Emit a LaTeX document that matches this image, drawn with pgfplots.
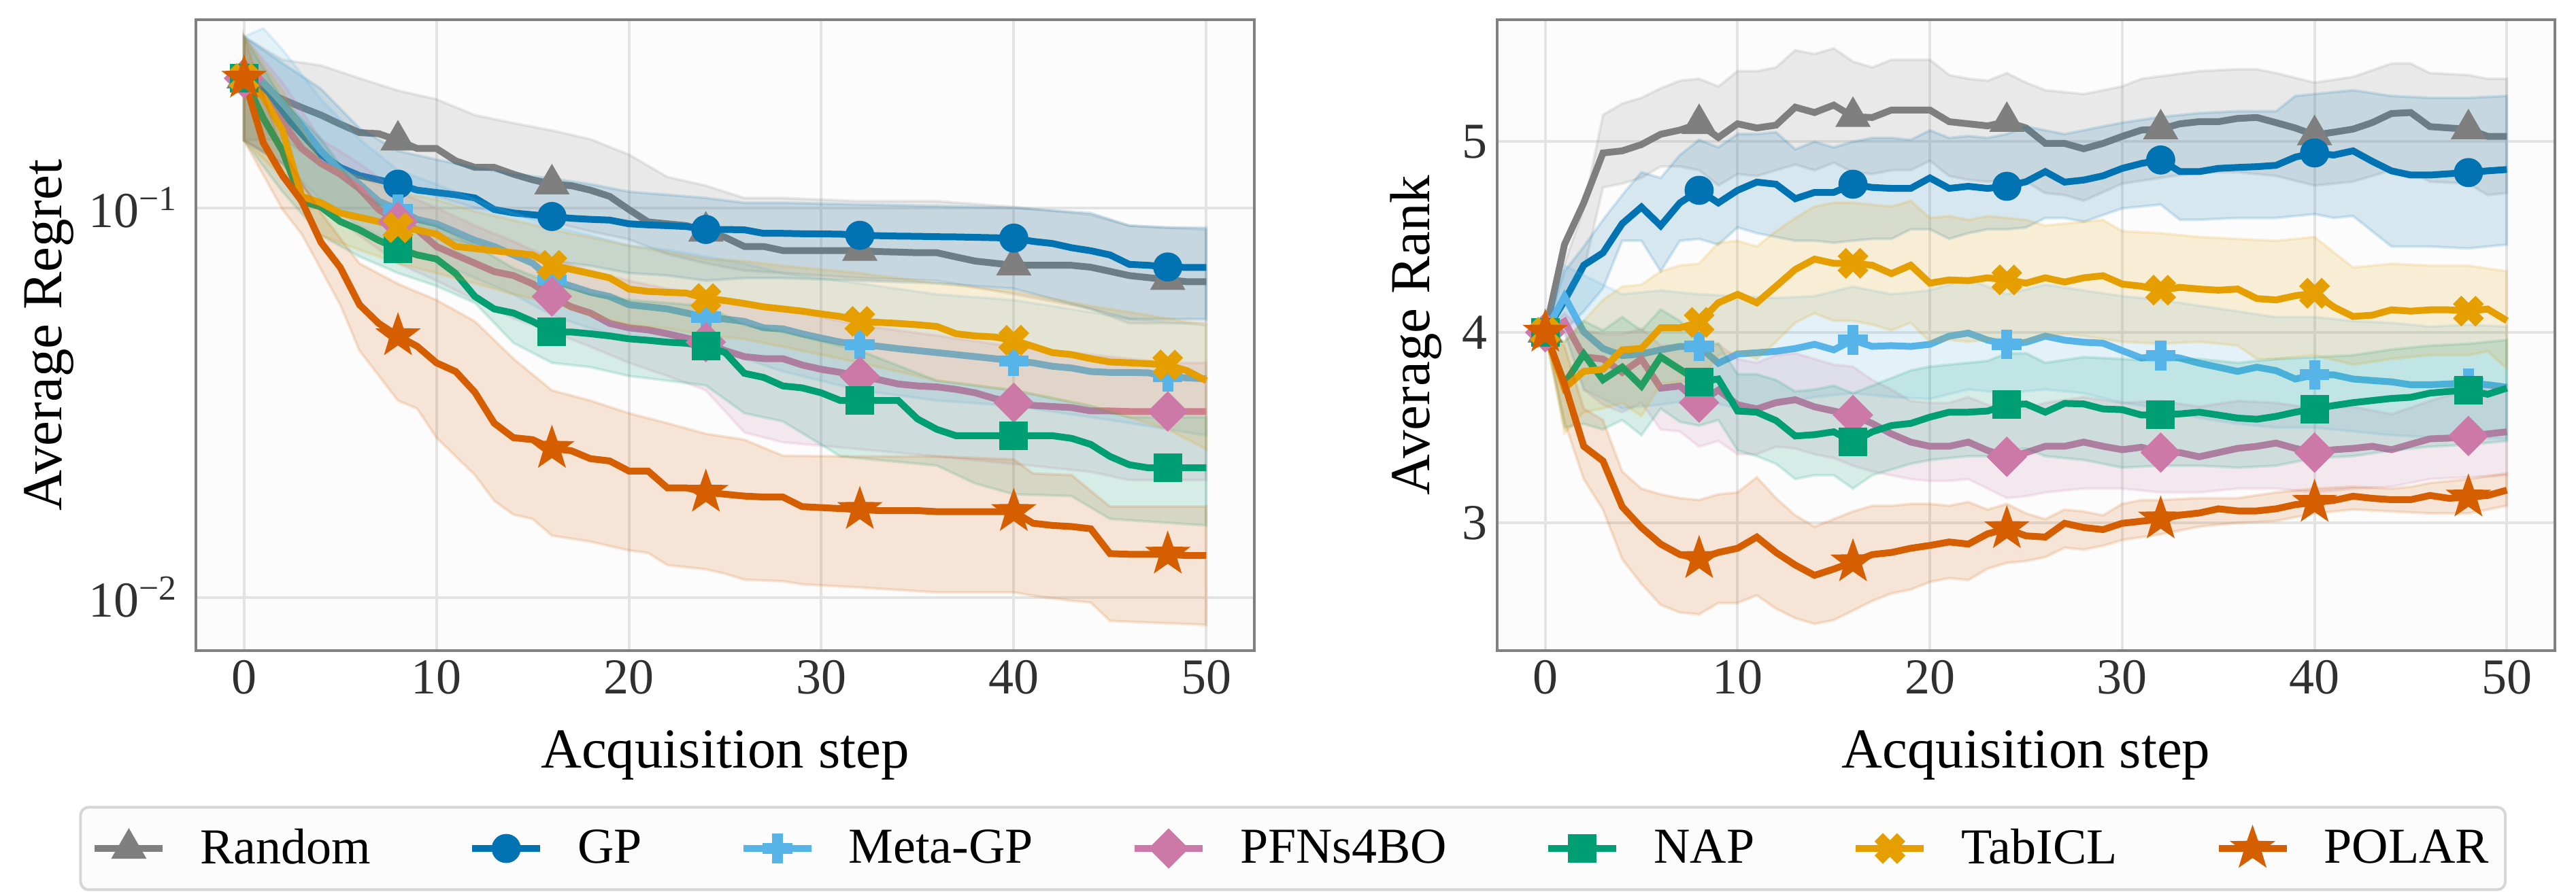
\documentclass[border=0pt]{standalone}
\usepackage{fontspec}
\setmainfont{Liberation Serif}
\usepackage{pgfplots}
\pgfplotsset{compat=1.18}
\usepackage{pgfplotstable}

\definecolor{cRnd}{HTML}{7F7F7F}
\definecolor{cGP}{HTML}{0173B2}
\definecolor{cMeta}{HTML}{56B4E9}
\definecolor{cPfn}{HTML}{CC79A7}
\definecolor{cNap}{HTML}{009E73}
\definecolor{cTab}{HTML}{E69F00}
\definecolor{cPol}{HTML}{D55E00}
\definecolor{bgc}{HTML}{FCFCFC}
\definecolor{framec}{HTML}{808080}
\definecolor{gridc}{HTML}{E3E3E3}
\definecolor{tickc}{HTML}{303030}
\definecolor{legc}{HTML}{D6D6D6}

\pgfdeclareplotmark{fstar}{%
 \pgfpathmoveto{\pgfpointpolar{90}{\pgfplotmarksize}}%
 \pgfpathlineto{\pgfpointpolar{126}{0.4\pgfplotmarksize}}%
 \pgfpathlineto{\pgfpointpolar{162}{\pgfplotmarksize}}%
 \pgfpathlineto{\pgfpointpolar{198}{0.4\pgfplotmarksize}}%
 \pgfpathlineto{\pgfpointpolar{234}{\pgfplotmarksize}}%
 \pgfpathlineto{\pgfpointpolar{270}{0.4\pgfplotmarksize}}%
 \pgfpathlineto{\pgfpointpolar{306}{\pgfplotmarksize}}%
 \pgfpathlineto{\pgfpointpolar{342}{0.4\pgfplotmarksize}}%
 \pgfpathlineto{\pgfpointpolar{18}{\pgfplotmarksize}}%
 \pgfpathlineto{\pgfpointpolar{54}{0.4\pgfplotmarksize}}%
 \pgfpathclose\pgfusepathqfillstroke}
\pgfdeclareplotmark{fplus}{%
 \pgfpathmoveto{\pgfpoint{0.34\pgfplotmarksize}{\pgfplotmarksize}}%
 \pgfpathlineto{\pgfpoint{0.34\pgfplotmarksize}{0.34\pgfplotmarksize}}%
 \pgfpathlineto{\pgfpoint{\pgfplotmarksize}{0.34\pgfplotmarksize}}%
 \pgfpathlineto{\pgfpoint{\pgfplotmarksize}{-0.34\pgfplotmarksize}}%
 \pgfpathlineto{\pgfpoint{0.34\pgfplotmarksize}{-0.34\pgfplotmarksize}}%
 \pgfpathlineto{\pgfpoint{0.34\pgfplotmarksize}{-\pgfplotmarksize}}%
 \pgfpathlineto{\pgfpoint{-0.34\pgfplotmarksize}{-\pgfplotmarksize}}%
 \pgfpathlineto{\pgfpoint{-0.34\pgfplotmarksize}{-0.34\pgfplotmarksize}}%
 \pgfpathlineto{\pgfpoint{-\pgfplotmarksize}{-0.34\pgfplotmarksize}}%
 \pgfpathlineto{\pgfpoint{-\pgfplotmarksize}{0.34\pgfplotmarksize}}%
 \pgfpathlineto{\pgfpoint{-0.34\pgfplotmarksize}{0.34\pgfplotmarksize}}%
 \pgfpathlineto{\pgfpoint{-0.34\pgfplotmarksize}{\pgfplotmarksize}}%
 \pgfpathclose\pgfusepathqfillstroke}

\pgfplotsset{
  band/.style={forget plot, no markers, fill=#1, draw=#1, opacity=0.15, line width=1pt},
  mline/.style={line width=2.5pt, color=#1, mark repeat=8, every mark/.append style={solid, line width=0.5pt}},
  common/.style={
    scale only axis, height=232pt,
    axis background/.style={fill=bgc},
    axis line style={draw=framec, line width=1pt},
    grid=major, major grid style={draw=gridc, line width=1pt},
    major tick length=0pt, minor tick length=0pt,
    tick label style={font=\fontsize{18.5}{22}\selectfont, text=tickc},
    label style={font=\fontsize{20.75}{25}\selectfont},
    xmin=-2.5, xmax=52.5, xtick={0,10,20,30,40,50},
    /pgf/number format/assume math mode=true,
    xlabel={Acquisition step},
    xlabel style={at={(axis description cs:0.5,-0.166)}, anchor=center},
  },
  legend image code/.code={\draw[mark repeat=2,mark phase=2,#1] plot coordinates {(0pt,0pt) (12.5pt,0pt) (25pt,0pt)};},
}

\pgfplotstableread{
t rnd gp meta pfn nap tab pol
0 0.215 0.215 0.215 0.215 0.215 0.215 0.215
1 0.200 0.198 0.210 0.193 0.170 0.193 0.147
2 0.190 0.175 0.186 0.166 0.140 0.158 0.121
3 0.181 0.155 0.162 0.142 0.104 0.107 0.104
4 0.173 0.137 0.140 0.130 0.1005 0.103 0.0815
5 0.164 0.127 0.125 0.122 0.0922 0.097 0.0703
6 0.156 0.121 0.115 0.112 0.0878 0.0945 0.0564
7 0.155 0.118 0.104 0.099 0.0825 0.0922 0.0505
8 0.149 0.115 0.099 0.0922 0.0786 0.0889 0.0469
9 0.142 0.111 0.0934 0.0878 0.0757 0.0878 0.0441
10 0.142 0.1095 0.091 0.0796 0.0739 0.0856 0.040
11 0.132 0.108 0.0867 0.0757 0.0678 0.0796 0.038
12 0.127 0.106 0.0825 0.0721 0.0592 0.0786 0.0336
13 0.127 0.099 0.0796 0.0686 0.055 0.0776 0.028
14 0.122 0.097 0.0757 0.067 0.0537 0.0767 0.0257
15 0.118 0.096 0.0721 0.0638 0.0511 0.0757 0.0254
16 0.115 0.095 0.0653 0.0592 0.048 0.0712 0.0241
17 0.114 0.094 0.063 0.0557 0.048 0.0695 0.0238
18 0.111 0.0934 0.0607 0.0537 0.0475 0.0678 0.0227
19 0.107 0.093 0.0592 0.0505 0.0469 0.0661 0.0224
20 0.099 0.091 0.0564 0.0492 0.0461 0.0619 0.0211
21 0.092 0.0904 0.0557 0.0486 0.0457 0.061 0.0211
22 0.091 0.090 0.055 0.0475 0.0452 0.0607 0.0191
23 0.090 0.0895 0.0537 0.0463 0.0449 0.0604 0.0191
24 0.087 0.088 0.0524 0.0452 0.0441 0.0585 0.0186
25 0.084 0.088 0.0518 0.043 0.0425 0.0578 0.0184
26 0.0796 0.0878 0.0511 0.0415 0.0376 0.0568 0.0182
27 0.0796 0.086 0.0492 0.041 0.0367 0.0557 0.0181
28 0.0777 0.086 0.0489 0.041 0.0349 0.055 0.0181
29 0.0777 0.0858 0.0475 0.0395 0.0345 0.0543 0.0171
30 0.0777 0.0857 0.0463 0.0385 0.0335 0.0534 0.017
31 0.0777 0.0856 0.0452 0.0378 0.032 0.0526 0.0169
32 0.0777 0.085 0.0446 0.0369 0.032 0.0511 0.0168
33 0.0772 0.0848 0.0441 0.0362 0.032 0.0508 0.0167
34 0.077 0.0846 0.0435 0.0353 0.032 0.0505 0.0167
35 0.0767 0.0845 0.043 0.0349 0.0287 0.0501 0.0167
36 0.0767 0.0843 0.0425 0.0347 0.027 0.0496 0.0166
37 0.0748 0.0842 0.042 0.0342 0.026 0.0475 0.0166
38 0.073 0.084 0.0415 0.0335 0.026 0.0469 0.0166
39 0.0721 0.0838 0.041 0.0324 0.026 0.0466 0.0166
40 0.0712 0.0836 0.0404 0.0316 0.026 0.0457 0.0166
41 0.0712 0.082 0.040 0.0311 0.026 0.0441 0.0155
42 0.0712 0.081 0.0392 0.0309 0.026 0.0425 0.0153
43 0.0712 0.079 0.0388 0.0307 0.0256 0.042 0.0152
44 0.0704 0.0776 0.038 0.0301 0.0247 0.041 0.015
45 0.0687 0.0757 0.0378 0.0301 0.023 0.0402 0.01295
46 0.067 0.0716 0.0378 0.030 0.0219 0.040 0.0129
47 0.0662 0.0712 0.0377 0.030 0.0215 0.0398 0.0129
48 0.0654 0.0705 0.0369 0.030 0.0215 0.0395 0.0129
49 0.0646 0.0703 0.0366 0.030 0.0215 0.0382 0.0128
50 0.0646 0.0703 0.0364 0.030 0.0215 0.036 0.0128
}\regret

\pgfplotstableread{
t rnd gp meta pfn nap tab pol
0 4.0 4.0 4.0 4.0 4.0 4.0 4.0
1 4.461 4.166 4.188 4.057 3.729 3.707 3.729
2 4.679 4.352 4.002 3.871 3.886 3.795 3.402
3 4.941 4.417 3.915 3.860 3.751 3.806 3.325
4 4.952 4.570 3.878 3.790 3.817 3.908 3.085
5 4.985 4.657 3.886 3.860 3.718 3.915 2.976
6 5.039 4.559 3.908 3.707 3.871 4.024 2.889
7 5.061 4.679 3.926 3.718 3.806 4.024 2.834
8 5.094 4.745 3.926 3.631 3.740 4.052 2.812
9 5.022 4.679 3.838 3.697 3.755 4.155 2.845
10 5.094 4.745 3.886 3.620 3.587 4.199 2.867
11 5.072 4.788 3.893 3.598 3.581 4.155 2.926
12 5.087 4.777 3.900 3.631 3.537 4.242 2.845
13 5.181 4.701 3.915 3.646 3.456 4.330 2.779
14 5.153 4.734 3.937 3.609 3.463 4.384 2.725
15 5.192 4.734 3.908 3.587 3.478 4.362 2.758
16 5.131 4.777 3.959 3.566 3.424 4.362 2.795
17 5.127 4.760 3.926 3.522 3.478 4.352 2.834
18 5.166 4.755 3.930 3.467 3.511 4.308 2.845
19 5.166 4.755 3.926 3.424 3.522 4.352 2.867
20 5.166 4.810 3.937 3.402 3.555 4.258 2.882
21 5.105 4.755 3.980 3.402 3.581 4.275 2.900
22 5.094 4.766 3.996 3.424 3.581 4.271 2.889
23 5.083 4.755 3.959 3.380 3.587 4.286 2.943
24 5.105 4.766 3.937 3.347 3.620 4.275 2.969
25 5.072 4.790 3.948 3.369 3.624 4.258 2.932
26 4.991 4.843 3.980 3.402 3.581 4.286 2.926
27 4.991 4.788 3.959 3.402 3.627 4.264 2.998
28 4.963 4.799 3.948 3.424 3.624 4.286 2.976
29 4.991 4.821 3.943 3.402 3.598 4.297 2.965
30 5.028 4.860 3.904 3.384 3.594 4.253 2.998
31 5.061 4.886 3.865 3.397 3.566 4.242 3.009
32 5.066 4.904 3.878 3.369 3.566 4.221 3.020
33 5.094 4.843 3.865 3.369 3.572 4.236 3.041
34 5.105 4.843 3.838 3.347 3.581 4.227 3.052
35 5.105 4.860 3.817 3.369 3.566 4.221 3.074
36 5.122 4.865 3.795 3.391 3.550 4.227 3.063
37 5.127 4.869 3.817 3.402 3.544 4.177 3.063
38 5.100 4.876 3.799 3.419 3.559 4.170 3.074
39 5.072 4.919 3.755 3.391 3.581 4.192 3.096
40 5.035 4.941 3.777 3.369 3.598 4.205 3.107
41 5.050 4.930 3.777 3.384 3.616 4.133 3.118
42 5.066 4.952 3.755 3.391 3.631 4.083 3.140
43 5.100 4.897 3.747 3.402 3.642 4.090 3.129
44 5.148 4.847 3.740 3.384 3.653 4.118 3.122
45 5.153 4.825 3.725 3.413 3.659 4.111 3.122
46 5.079 4.825 3.725 3.441 3.681 4.118 3.144
47 5.072 4.832 3.729 3.445 3.690 4.118 3.129
48 5.066 4.838 3.734 3.456 3.697 4.111 3.135
49 5.028 4.847 3.725 3.467 3.675 4.122 3.144
50 5.028 4.854 3.712 3.478 3.707 4.061 3.172
}\rank

\begin{document}
\begin{tikzpicture}
\useasboundingbox (0pt,0pt) rectangle (946.75pt,-328.75pt);

% ---------------- left: average regret ----------------
\begin{axis}[common, at={(72pt,-7.25pt)}, anchor=north west, width=389pt,
  ymode=log, ymin=0.0073, ymax=0.304, ytick={0.01,0.1},
  yticklabels={10\textsuperscript{−2},10\textsuperscript{−1}},
  yticklabel style={xshift=-3pt},
  ylabel={Average Regret},
  ylabel style={at={(axis description cs:-0.139,0.5)}, anchor=center},
  legend columns=7,
  legend style={at={(axis description cs:1.0365,-0.3136)}, anchor=center,
    draw=legc, fill=bgc, line width=1pt, rounded corners=3pt,
    font=\fontsize{18.5}{22}\selectfont, inner xsep=4pt, inner ysep=6pt,
    /tikz/every odd column/.append style={column sep=10.5pt},
    /tikz/every even column/.append style={column sep=34pt}},
  legend cell align=left,
]
\addplot[band=cRnd] coordinates {(0,0.275) (2,0.24) (4,0.232) (6,0.215) (8,0.200) (10,0.19) (12,0.173) (14,0.165) (16,0.158) (18,0.15) (20,0.137) (22,0.12) (24,0.114) (26,0.106) (28,0.106) (32,0.104) (36,0.104) (40,0.1005) (44,0.096) (46,0.09) (48,0.089) (50,0.088)
 (50,0.0505) (48,0.0505) (46,0.0505) (44,0.055) (40,0.060) (36,0.065) (32,0.066) (28,0.068) (26,0.069) (24,0.072) (22,0.076) (20,0.083) (18,0.087) (16,0.092) (14,0.096) (12,0.10) (10,0.107) (8,0.115) (6,0.122) (4,0.13) (2,0.15) (0,0.149)} -- cycle;
\addplot[mline=cRnd, mark=triangle*, mark size=7pt] table[x=t,y=rnd]{\regret};
\addlegendentry{Random}

\addplot[band=cGP] coordinates {(0,0.275) (2,0.235) (4,0.202) (6,0.16) (8,0.14) (10,0.133) (12,0.127) (14,0.122) (16,0.119) (18,0.115) (20,0.11) (22,0.108) (24,0.106) (26,0.103) (28,0.103) (32,0.102) (36,0.101) (40,0.1) (44,0.097) (46,0.09) (48,0.089) (50,0.089)
 (50,0.0518) (48,0.0518) (46,0.0518) (44,0.055) (40,0.062) (36,0.064) (32,0.065) (28,0.066) (26,0.066) (24,0.065) (22,0.067) (20,0.068) (18,0.071) (16,0.073) (14,0.076) (12,0.08) (10,0.085) (8,0.09) (6,0.095) (4,0.10) (2,0.13) (0,0.149)} -- cycle;
\addplot[mline=cGP, mark=*, mark size=5.1pt] table[x=t,y=gp]{\regret};
\addlegendentry{GP}

\addplot[band=cMeta] coordinates {(0,0.275) (1,0.289) (2,0.255) (4,0.19) (6,0.15) (8,0.125) (10,0.115) (12,0.105) (14,0.097) (16,0.09) (18,0.085) (20,0.08) (22,0.078) (24,0.075) (26,0.072) (28,0.068) (32,0.064) (36,0.06) (40,0.058) (44,0.054) (46,0.052) (48,0.051) (50,0.05)
 (50,0.026) (48,0.027) (46,0.028) (44,0.029) (40,0.031) (36,0.032) (32,0.034) (28,0.038) (26,0.041) (24,0.044) (22,0.045) (20,0.046) (18,0.049) (16,0.053) (14,0.06) (12,0.066) (10,0.073) (8,0.08) (6,0.09) (4,0.105) (2,0.13) (0,0.149)} -- cycle;
\addplot[mline=cMeta, mark=fplus, mark size=5.2pt] table[x=t,y=meta]{\regret};
\addlegendentry{Meta-GP}

\addplot[band=cPfn] coordinates {(0,0.275) (2,0.21) (4,0.15) (6,0.13) (8,0.11) (10,0.10) (12,0.09) (14,0.082) (16,0.074) (18,0.069) (20,0.065) (22,0.062) (24,0.06) (26,0.057) (28,0.055) (32,0.05) (36,0.047) (40,0.044) (44,0.042) (46,0.041) (48,0.04) (50,0.04)
 (50,0.02) (48,0.02) (46,0.02) (44,0.021) (40,0.022) (36,0.023) (32,0.024) (28,0.025) (26,0.0265) (25,0.030) (24,0.034) (22,0.037) (20,0.040) (18,0.044) (16,0.048) (14,0.052) (12,0.058) (10,0.065) (8,0.072) (6,0.085) (4,0.10) (2,0.13) (0,0.149)} -- cycle;
\addplot[mline=cPfn, mark=square*, mark size=5pt, every mark/.append style={rotate=45}] table[x=t,y=pfn]{\regret};
\addlegendentry{PFNs4BO}

\addplot[band=cNap] coordinates {(0,0.275) (2,0.19) (4,0.15) (6,0.11) (8,0.095) (10,0.09) (12,0.08) (14,0.07) (16,0.064) (18,0.06) (20,0.058) (22,0.057) (24,0.056) (26,0.05) (28,0.048) (32,0.043) (36,0.036) (40,0.034) (44,0.031) (46,0.029) (48,0.029) (50,0.029)
 (50,0.0153) (45,0.0159) (43,0.0182) (40,0.0184) (38,0.0196) (36,0.0218) (31,0.023) (28,0.0283) (26,0.0297) (24,0.035) (22,0.036) (20,0.037) (18,0.039) (16,0.040) (14,0.045) (12,0.057) (10,0.063) (8,0.068) (6,0.075) (4,0.085) (2,0.11) (0,0.149)} -- cycle;
\addplot[mline=cNap, mark=square*, mark size=5pt] table[x=t,y=nap]{\regret};
\addlegendentry{NAP}

\addplot[band=cTab] coordinates {(0,0.275) (2,0.2) (4,0.13) (6,0.12) (8,0.11) (10,0.105) (12,0.098) (14,0.093) (16,0.088) (18,0.084) (20,0.080) (22,0.077) (24,0.074) (26,0.073) (28,0.071) (32,0.068) (36,0.064) (40,0.061) (44,0.056) (46,0.054) (48,0.052) (50,0.05)
 (50,0.024) (48,0.027) (46,0.029) (44,0.031) (40,0.034) (36,0.036) (32,0.040) (28,0.044) (26,0.046) (24,0.047) (22,0.049) (20,0.050) (18,0.053) (16,0.057) (14,0.06) (12,0.064) (10,0.068) (8,0.072) (6,0.078) (4,0.085) (2,0.12) (0,0.149)} -- cycle;
\addplot[mline=cTab, mark=fplus, mark size=5.6pt, every mark/.append style={rotate=45}] table[x=t,y=tab]{\regret};
\addlegendentry{TabICL}

\addplot[band=cPol] coordinates {(0,0.275) (2,0.14) (4,0.097) (6,0.072) (8,0.0638) (10,0.058) (12,0.0511) (14,0.041) (16,0.034) (18,0.032) (20,0.0297) (22,0.028) (24,0.0263) (26,0.0254) (28,0.0231) (32,0.023) (36,0.023) (40,0.0226) (41,0.0208) (43,0.0206) (45,0.0171) (50,0.0171)
 (50,0.0085) (45,0.0087) (44,0.0097) (43,0.0098) (41,0.0101) (40,0.0103) (36,0.0103) (32,0.0106) (29,0.0108) (28,0.011) (26,0.0111) (25,0.0115) (24,0.0118) (22,0.0121) (21,0.013) (20,0.0132) (18,0.0139) (16,0.0144) (15,0.0159) (14,0.0163) (13,0.0177) (12,0.0206) (10,0.0257) (9,0.0305) (8,0.032) (6,0.043) (5,0.0564) (3,0.0856) (2,0.099) (0,0.149)} -- cycle;
\addplot[mline=cPol, mark=fstar, mark size=8pt] table[x=t,y=pol]{\regret};
\addlegendentry{POLAR\hspace{-15pt}}
\end{axis}

% ---------------- right: average rank ----------------
\begin{axis}[common, at={(550.25pt,-7.25pt)}, anchor=north west, width=388.75pt,
  ymin=2.33, ymax=5.64, ytick={3,4,5},
  ylabel={Average Rank},
  ylabel style={at={(axis description cs:-0.0765,0.5)}, anchor=center},
]
\addplot[band=cRnd] coordinates {(0,4.0) (1,4.36) (2,4.65) (3,5.14) (4,5.20) (5,5.23) (6,5.28) (7,5.32) (8,5.33) (9,5.29) (10,5.37) (11,5.37) (12,5.39) (13,5.48) (14,5.46) (15,5.49) (16,5.42) (17,5.39) (18,5.43) (20,5.43) (21,5.35) (22,5.33) (23,5.32) (24,5.36) (25,5.31) (26,5.27) (28,5.25) (30,5.29) (31,5.33) (34,5.37) (36,5.38) (37,5.38) (38,5.36) (40,5.31) (42,5.34) (44,5.41) (45,5.41) (46,5.36) (48,5.35) (49,5.33) (50,5.33)
 (50,4.73) (49,4.72) (48,4.78) (46,4.79) (45,4.84) (44,4.85) (42,4.79) (40,4.77) (38,4.82) (36,4.84) (34,4.84) (32,4.81) (30,4.78) (28,4.69) (27,4.72) (26,4.73) (25,4.79) (24,4.80) (23,4.79) (22,4.80) (21,4.82) (20,4.90) (19,4.85) (18,4.85) (17,4.83) (16,4.84) (15,4.89) (14,4.85) (13,4.88) (12,4.85) (11,4.82) (10,4.83) (9,4.77) (8,4.85) (7,4.87) (6,4.87) (5,4.81) (4,4.78) (3,4.76) (2,4.32) (1,4.14) (0,4.0)} -- cycle;
\addplot[mline=cRnd, mark=triangle*, mark size=7pt] table[x=t,y=rnd]{\rank};

\addplot[band=cGP] coordinates {(0,4.0) (1,4.32) (2,4.45) (3,4.59) (4,4.72) (5,4.84) (6,4.81) (7,4.93) (8,5.01) (9,4.97) (10,5.04) (11,5.04) (12,5.05) (13,4.96) (14,5.00) (15,4.97) (16,5.00) (17,5.02) (18,5.02) (19,5.01) (20,5.06) (21,5.02) (22,5.03) (23,5.02) (24,5.04) (25,5.08) (26,5.06) (27,5.04) (28,5.06) (30,5.10) (32,5.13) (34,5.15) (36,5.16) (38,5.16) (39,5.24) (40,5.25) (42,5.27) (44,5.24) (46,5.23) (48,5.23) (50,5.24)
 (50,4.46) (48,4.44) (46,4.45) (44,4.45) (42,4.61) (41,4.60) (40,4.62) (38,4.60) (36,4.60) (34,4.59) (33,4.59) (32,4.67) (30,4.65) (28,4.58) (27,4.60) (26,4.60) (25,4.55) (24,4.54) (23,4.54) (22,4.52) (21,4.49) (20,4.54) (19,4.54) (18,4.49) (17,4.49) (16,4.48) (15,4.47) (14,4.48) (13,4.48) (12,4.50) (11,4.52) (10,4.55) (9,4.46) (8,4.49) (7,4.48) (6,4.32) (5,4.48) (4,4.48) (3,4.23) (2,4.11) (1,4.01) (0,4.0)} -- cycle;
\addplot[mline=cGP, mark=*, mark size=5.1pt] table[x=t,y=gp]{\rank};

\addplot[band=cMeta] coordinates {(0,4.0) (1,4.35) (2,4.3) (4,4.2) (6,4.22) (8,4.2) (10,4.19) (12,4.18) (14,4.19) (16,4.24) (18,4.2) (20,4.22) (22,4.28) (24,4.2) (26,4.25) (28,4.22) (30,4.19) (32,4.17) (34,4.14) (36,4.11) (38,4.08) (40,4.08) (42,4.06) (44,4.05) (46,4.03) (48,4.04) (50,4.03)
 (50,3.44) (48,3.45) (46,3.45) (44,3.46) (42,3.48) (40,3.5) (38,3.5) (36,3.52) (34,3.55) (32,3.6) (30,3.63) (28,3.68) (26,3.7) (24,3.68) (22,3.7) (20,3.65) (18,3.66) (16,3.68) (14,3.66) (12,3.62) (10,3.6) (8,3.65) (6,3.62) (4,3.6) (2,3.7) (1,4.0) (0,4.0)} -- cycle;
\addplot[mline=cMeta, mark=fplus, mark size=5.2pt] table[x=t,y=meta]{\rank};

\addplot[band=cPfn] coordinates {(0,4.0) (1,4.1) (2,4.01) (3,3.99) (4,3.99) (5,4.02) (6,3.93) (7,3.93) (8,3.90) (9,3.94) (10,3.86) (11,3.84) (12,3.88) (13,3.89) (14,3.86) (15,3.83) (16,3.82) (17,3.75) (18,3.70) (19,3.64) (20,3.63) (21,3.63) (22,3.66) (23,3.62) (24,3.59) (25,3.60) (26,3.63) (28,3.66) (30,3.63) (32,3.64) (34,3.61) (36,3.64) (38,3.63) (40,3.60) (42,3.61) (44,3.57) (46,3.64) (48,3.70) (50,3.72)
 (50,3.25) (48,3.24) (46,3.23) (44,3.19) (42,3.18) (40,3.16) (38,3.18) (36,3.18) (34,3.16) (32,3.16) (30,3.18) (28,3.18) (26,3.16) (25,3.14) (24,3.13) (23,3.18) (22,3.23) (21,3.22) (20,3.22) (19,3.23) (18,3.25) (17,3.27) (16,3.30) (15,3.34) (14,3.36) (13,3.39) (12,3.40) (11,3.36) (10,3.36) (9,3.43) (8,3.40) (7,3.48) (6,3.49) (5,3.63) (4,3.58) (3,3.62) (2,3.70) (1,4.0) (0,4.0)} -- cycle;
\addplot[mline=cPfn, mark=square*, mark size=5pt, every mark/.append style={rotate=45}] table[x=t,y=pfn]{\rank};

\addplot[band=cNap] coordinates {(0,4.0) (1,3.95) (2,4.06) (3,4.01) (4,4.08) (5,4.01) (6,4.12) (7,4.06) (8,3.95) (9,3.94) (10,3.78) (11,3.78) (12,3.75) (13,3.69) (14,3.70) (15,3.72) (16,3.68) (17,3.72) (18,3.76) (19,3.80) (20,3.82) (21,3.83) (22,3.84) (23,3.85) (24,3.89) (25,3.89) (26,3.84) (28,3.87) (30,3.86) (32,3.85) (34,3.86) (36,3.84) (38,3.86) (40,3.87) (42,3.88) (44,3.91) (46,3.93) (48,3.94) (50,3.96)
 (50,3.43) (48,3.41) (46,3.40) (44,3.38) (42,3.35) (40,3.34) (38,3.30) (36,3.29) (34,3.30) (32,3.30) (30,3.29) (28,3.33) (26,3.35) (25,3.39) (24,3.38) (23,3.35) (22,3.35) (21,3.34) (20,3.33) (19,3.31) (18,3.28) (17,3.25) (16,3.18) (15,3.25) (14,3.25) (13,3.23) (12,3.31) (11,3.35) (10,3.38) (9,3.54) (8,3.51) (7,3.53) (6,3.60) (5,3.46) (4,3.54) (3,3.49) (2,3.52) (1,3.5) (0,4.0)} -- cycle;
\addplot[mline=cNap, mark=square*, mark size=5pt] table[x=t,y=nap]{\rank};

\addplot[band=cTab] coordinates {(0,4.0) (1,3.95) (2,4.06) (3,4.17) (4,4.24) (5,4.25) (6,4.32) (7,4.35) (8,4.36) (9,4.47) (10,4.48) (11,4.45) (12,4.53) (13,4.60) (14,4.66) (15,4.68) (16,4.68) (17,4.67) (18,4.66) (19,4.69) (20,4.60) (21,4.61) (22,4.59) (23,4.61) (24,4.60) (25,4.59) (26,4.56) (27,4.57) (28,4.58) (29,4.59) (30,4.53) (32,4.52) (34,4.50) (36,4.49) (38,4.48) (40,4.50) (41,4.42) (42,4.34) (44,4.36) (46,4.35) (48,4.35) (50,4.32)
 (50,3.81) (49,3.90) (48,3.88) (46,3.88) (44,3.86) (42,3.83) (40,3.88) (38,3.86) (37,3.86) (36,3.93) (34,3.95) (32,3.94) (30,3.95) (28,3.98) (27,3.99) (26,3.98) (25,3.95) (24,3.97) (23,3.96) (22,3.95) (21,3.96) (20,3.95) (19,4.05) (18,4.01) (17,4.04) (16,4.06) (15,4.06) (14,4.10) (13,4.05) (12,3.95) (11,3.86) (10,3.90) (9,3.88) (8,3.74) (7,3.74) (6,3.73) (5,3.56) (4,3.63) (3,3.60) (2,3.58) (1,3.47) (0,4.0)} -- cycle;
\addplot[mline=cTab, mark=fplus, mark size=5.6pt, every mark/.append style={rotate=45}] table[x=t,y=tab]{\rank};

\addplot[band=cPol] coordinates {(0,4.0) (1,3.93) (2,3.60) (3,3.54) (4,3.27) (5,3.18) (6,3.15) (7,3.13) (8,3.12) (9,3.15) (10,3.16) (11,3.24) (12,3.13) (13,3.04) (14,2.98) (15,3.02) (16,3.06) (17,3.09) (18,3.09) (19,3.10) (20,3.10) (21,3.09) (22,3.11) (23,3.07) (24,3.10) (25,3.05) (26,3.02) (27,3.07) (28,3.06) (29,3.04) (30,3.10) (31,3.12) (32,3.12) (34,3.13) (36,3.13) (38,3.16) (40,3.18) (42,3.19) (44,3.18) (45,3.19) (46,3.21) (48,3.23) (50,3.26)
 (50,3.09) (48,3.05) (46,3.05) (44,3.06) (42,3.07) (40,3.05) (38,3.01) (36,3.00) (34,2.98) (32,2.94) (30,2.91) (29,2.88) (28,2.86) (27,2.87) (26,2.82) (25,2.80) (24,2.79) (23,2.76) (22,2.70) (21,2.71) (20,2.69) (19,2.65) (18,2.63) (17,2.59) (16,2.54) (15,2.49) (14,2.47) (13,2.50) (12,2.55) (11,2.62) (10,2.58) (9,2.58) (8,2.52) (7,2.53) (6,2.57) (5,2.68) (4,2.81) (3,3.07) (2,3.23) (1,3.53) (0,4.0)} -- cycle;
\addplot[mline=cPol, mark=fstar, mark size=8pt] table[x=t,y=pol]{\rank};
\end{axis}
\end{tikzpicture}
\end{document}
